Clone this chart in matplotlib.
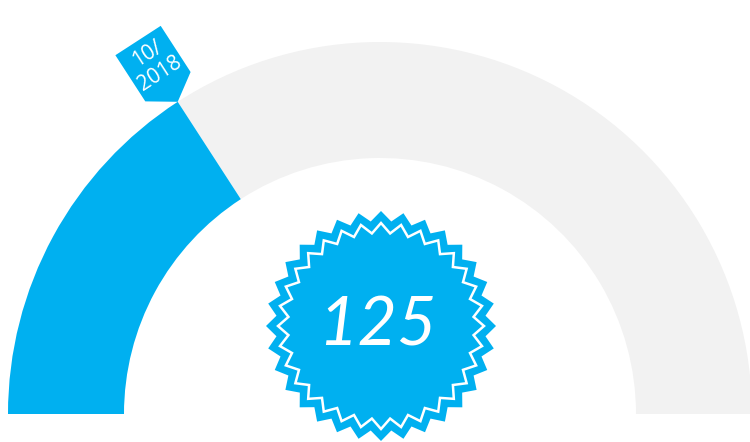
"""Half-donut gauge with date marker and starburst badge."""

import numpy as np
import matplotlib
matplotlib.use('Agg')
import matplotlib.pyplot as plt
from matplotlib.patches import Wedge, Polygon

# data
gauge_pct = 31.7          # share of the half ring that is filled
gauge_max = 100.0
badge_value = '125'
marker_label = '10/\n2018'

blue = '#00B0F0'
grey = '#F2F2F2'

fig = plt.figure(figsize=(7.5, 4.42), dpi=100)
ax = fig.add_axes([0, 0, 1, 1])
ax.set_xlim(0, 750)
ax.set_ylim(0, 442)
ax.set_aspect('equal')
ax.axis('off')

# ring geometry
cx, cy = 380, 28
r_out, ring_w = 372, 116
theta = 180 - 180 * gauge_pct / gauge_max

ax.add_patch(Wedge((cx, cy), r_out, 0, theta, width=ring_w, color=grey, lw=0))
ax.add_patch(Wedge((cx, cy), r_out, theta, 180, width=ring_w, color=blue, lw=0))

# marker at the end of the filled part
t = np.radians(theta)
rad = np.array([np.cos(t), np.sin(t)])
tan = np.array([np.sin(t), -np.cos(t)])
tip = np.array([cx, cy]) + r_out * rad
local = [(0, 0), (27, 18), (27, 73), (-27, 73), (-27, 18)]
pts = [tip + u * tan + v * rad for u, v in local]
ax.add_patch(Polygon(pts, closed=True, color=blue, lw=0))
mid = tip + 45 * rad
ax.text(mid[0], mid[1], marker_label, rotation=theta - 90, rotation_mode='anchor',
        ha='center', va='center', multialignment='center', color='white',
        fontsize=15, family='Open Sans', linespacing=1.15)

# starburst badge
sx, sy = 381, 116
n = 32
ang = np.pi / 2 + np.arange(2 * n) * np.pi / n


def star(r1, r2):
    rr = np.where(np.arange(2 * n) % 2 == 0, r1, r2)
    return np.column_stack([sx + rr * np.cos(ang), sy + rr * np.sin(ang)])


ax.add_patch(Polygon(star(115, 105), closed=True, color=blue, lw=0))
ax.add_patch(Polygon(star(103, 93), closed=True, fill=False, ec='white', lw=1.8))
ax.text(377, 115, badge_value, ha='center', va='center', color='white',
        fontsize=49, family='Lato', style='italic')

fig.savefig('out.png', dpi=100)
